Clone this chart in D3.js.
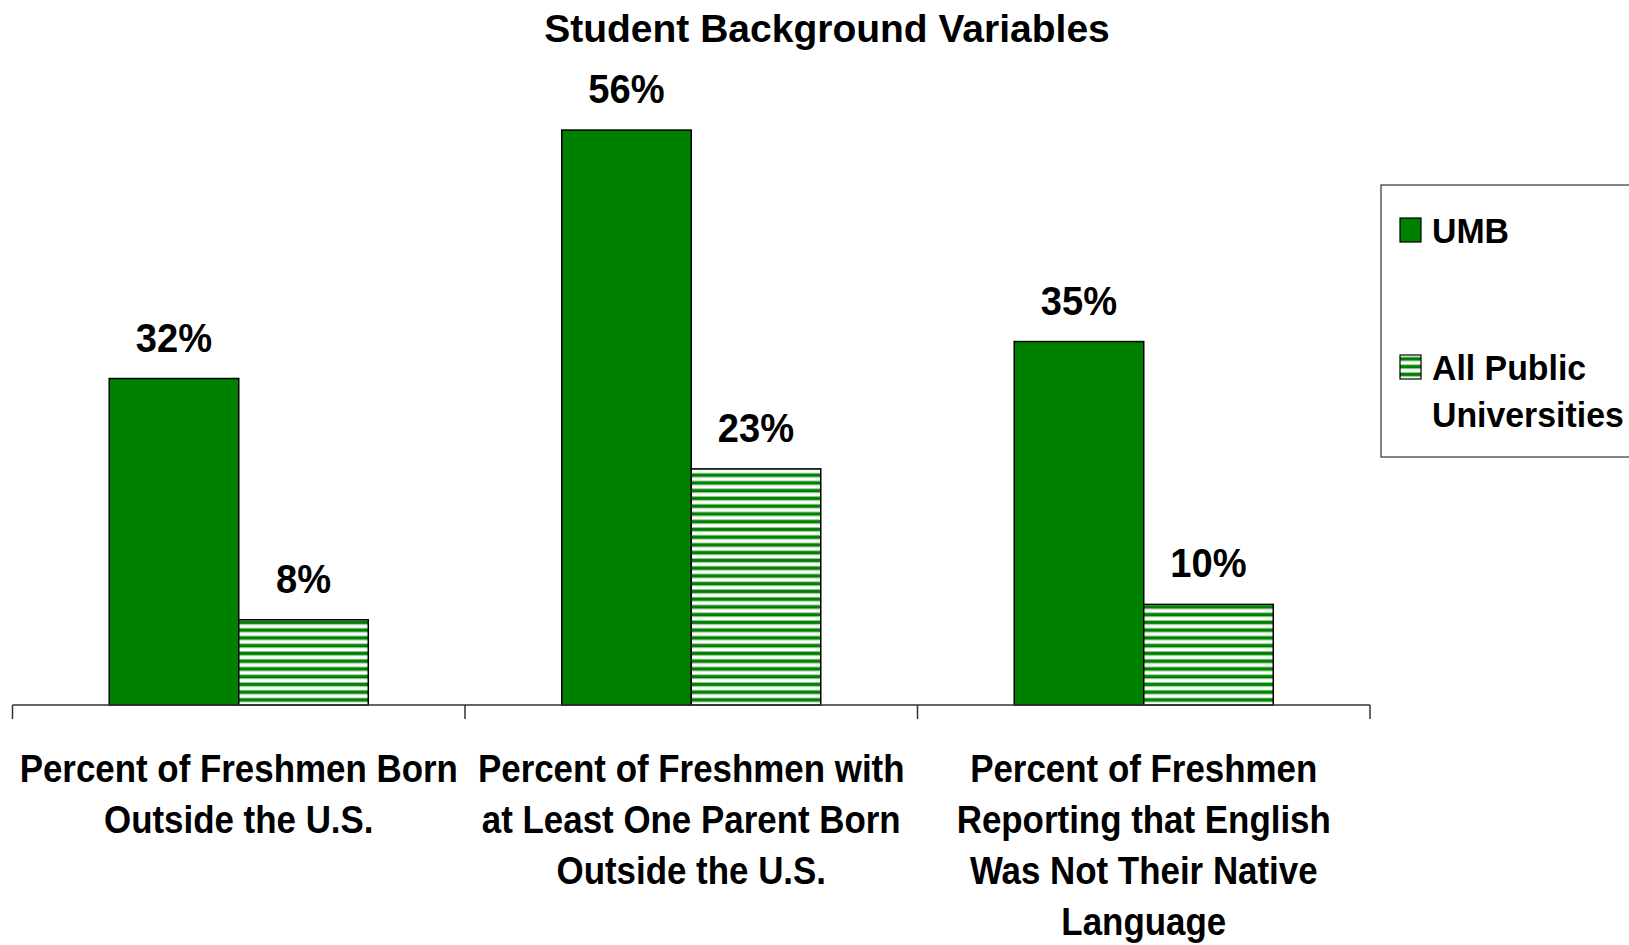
<!DOCTYPE html>
<html>
<head>
<meta charset="utf-8">
<script src="https://cdn.jsdelivr.net/npm/d3@7"></script>
<style>
  body { margin: 0; background: #fff; }
  svg { display: block; }
  text { font-family: "Liberation Sans", Arial, sans-serif; font-weight: bold; fill: #000; }
</style>
</head>
<body>
<div id="chart"></div>
<script>
// chart data
const categories = ["born", "parent", "english"];
const categoryLines = [
    ["Percent of Freshmen Born", "Outside the U.S."],
    ["Percent of Freshmen with", "at Least One Parent Born", "Outside the U.S."],
    ["Percent of Freshmen", "Reporting that English", "Was Not Their Native", "Language"]
];
const seriesNames = ["UMB", "All Public Universities"];
const umbValues = [0.318, 0.56, 0.354];
const publicValues = [0.083, 0.23, 0.098];
const valueLabels = [["32%", "8%"], ["56%", "23%"], ["35%", "10%"]];

const W = 1629, H = 945;
const green = "#008000";

const svg = d3.select("#chart")
    .append("svg")
    .attr("width", W)
    .attr("height", H);

// horizontal stripes for the second series
const defs = svg.append("defs");
const pat = defs.append("pattern")
    .attr("id", "stripes")
    .attr("patternUnits", "userSpaceOnUse")
    .attr("width", 8).attr("height", 7.75);
pat.append("rect").attr("width", 8).attr("height", 7.75).attr("fill", "#fff");
pat.append("rect").attr("y", 0).attr("width", 8).attr("height", 1).attr("fill", "#8cc68c");
pat.append("rect").attr("y", 1).attr("width", 8).attr("height", 3).attr("fill", green);
pat.append("rect").attr("y", 4).attr("width", 8).attr("height", 1).attr("fill", "#8cc68c");

const x0 = d3.scaleBand()
    .domain(categories)
    .range([12.5, 1370])
    .padding(0);

const x1 = d3.scaleBand()
    .domain(seriesNames)
    .range([0, x0.bandwidth()])
    .paddingInner(0)
    .paddingOuter(0.747);

const y = d3.scaleLinear()
    .domain([0, 0.6])
    .range([705, 89]);

// helper for squeezed text (original text is narrower than Arial bold)
function label(g, txt, x, yy, size, sx, anchor) {
    return g.append("text")
        .attr("transform", `translate(${x},${yy}) scale(${sx},1)`)
        .attr("text-anchor", anchor || "middle")
        .style("font-size", size + "px")
        .text(txt);
}

// title
svg.append("text")
    .attr("x", 827)
    .attr("y", 42)
    .attr("text-anchor", "middle")
    .style("font-size", "39px")
    .text("Student Background Variables");

// bars
const rows = categories.map((c, i) => ({
    cat: c, i: i,
    vals: [
        { s: seriesNames[0], v: umbValues[i], lab: valueLabels[i][0] },
        { s: seriesNames[1], v: publicValues[i], lab: valueLabels[i][1] }
    ]
}));

const groups = svg.selectAll("g.grp")
    .data(rows)
    .join("g")
    .attr("class", "grp")
    .attr("transform", d => `translate(${x0(d.cat)},0)`);

groups.selectAll("rect")
    .data(d => d.vals)
    .join("rect")
    .attr("x", d => x1(d.s))
    .attr("y", d => y(d.v))
    .attr("width", x1.bandwidth())
    .attr("height", d => y(0) - y(d.v))
    .attr("fill", d => d.s === seriesNames[0] ? green : "url(#stripes)")
    .attr("stroke", "#000")
    .attr("stroke-width", 1.5);

groups.each(function(d) {
    const g = d3.select(this);
    d.vals.forEach(v => {
        label(g, v.lab, x1(v.s) + x1.bandwidth() / 2, y(v.v) - 27, 41, 0.93);
    });
});

// category axis
const axis = svg.append("g");
axis.append("line")
    .attr("x1", x0.range()[0]).attr("x2", x0.range()[1])
    .attr("y1", y(0)).attr("y2", y(0))
    .attr("stroke", "#333").attr("stroke-width", 1.5);
const tickXs = categories.map(c => x0(c)).concat([x0.range()[1]]);
axis.selectAll("line.tick")
    .data(tickXs)
    .join("line")
    .attr("class", "tick")
    .attr("x1", d => d).attr("x2", d => d)
    .attr("y1", y(0)).attr("y2", y(0) + 14)
    .attr("stroke", "#333").attr("stroke-width", 1.5);

categories.forEach((c, i) => {
    categoryLines[i].forEach((ln, j) => {
        label(axis, ln, x0(c) + x0.bandwidth() / 2, 782 + j * 51, 39, 0.895);
    });
});

// legend
const leg = svg.append("g");
leg.append("rect")
    .attr("x", 1381).attr("y", 185)
    .attr("width", 300).attr("height", 272)
    .attr("fill", "#fff")
    .attr("stroke", "#333").attr("stroke-width", 1.2);

const legendItems = [
    { fill: green, lines: ["UMB"], base: 243 },
    { fill: "url(#stripes)", lines: ["All Public", "Universities"], base: 380 }
];
legendItems.forEach(it => {
    leg.append("rect")
        .attr("x", 1400).attr("y", it.base - 25)
        .attr("width", 21).attr("height", 24)
        .attr("fill", it.fill)
        .attr("stroke", "#000").attr("stroke-width", 1.2);
    it.lines.forEach((ln, j) => {
        label(leg, ln, 1432, it.base + j * 47, 36, 0.94, "start");
    });
});
</script>
</body>
</html>
